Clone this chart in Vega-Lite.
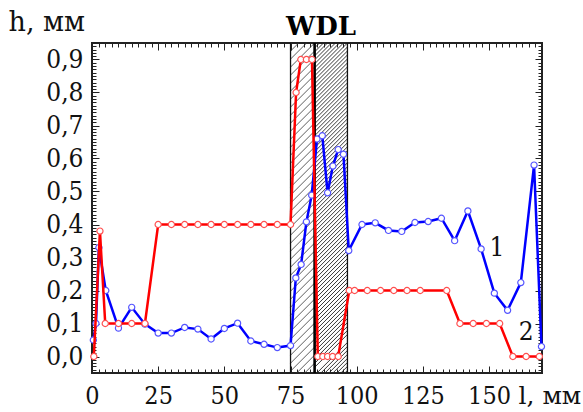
{
  "$schema": "https://vega.github.io/schema/vega-lite/v6.json",
  "width": 450,
  "height": 330,
  "autosize": {"type": "none"},
  "padding": {"left": 92, "top": 43, "right": 41, "bottom": 39},
  "background": "white",
  "config": {
    "font": "DejaVu Serif Condensed",
    "view": {"stroke": "#222", "strokeWidth": 2},
    "axis": {"domain": false, "grid": false, "tickColor": "#222", "tickWidth": 1, "labelColor": "#111", "labelFont": "DejaVu Serif Condensed", "titleFont": "DejaVu Serif", "titleFontWeight": "normal", "titleColor": "#111", "labelFlush": false, "labelOverlap": false}
  },
  "datasets": {
    "blue": [{"l":0.5,"h":0.05},{"l":1.5,"h":0.1},{"l":2.6,"h":0.33},{"l":5.2,"h":0.2},{"l":10,"h":0.086},{"l":15,"h":0.149},{"l":20,"h":0.098},{"l":25,"h":0.071},{"l":30,"h":0.071},{"l":35,"h":0.088},{"l":40,"h":0.083},{"l":45,"h":0.053},{"l":50,"h":0.085},{"l":55,"h":0.101},{"l":60,"h":0.047},{"l":65,"h":0.037},{"l":70,"h":0.027},{"l":75,"h":0.033},{"l":77,"h":0.238},{"l":79,"h":0.279},{"l":81,"h":0.408},{"l":83,"h":0.489},{"l":85,"h":0.659},{"l":87,"h":0.669},{"l":89,"h":0.496},{"l":91,"h":0.577},{"l":93,"h":0.627},{"l":95,"h":0.613},{"l":97,"h":0.321},{"l":102,"h":0.4},{"l":107,"h":0.405},{"l":112,"h":0.382},{"l":117,"h":0.379},{"l":122,"h":0.406},{"l":127,"h":0.409},{"l":132,"h":0.419},{"l":137,"h":0.351},{"l":142,"h":0.441},{"l":147,"h":0.326},{"l":152,"h":0.192},{"l":157,"h":0.14},{"l":162,"h":0.224},{"l":167,"h":0.58},{"l":169.8,"h":0.03}],
    "red": [{"l":0.7,"h":0.0},{"l":3,"h":0.38},{"l":5,"h":0.1},{"l":10,"h":0.1},{"l":15,"h":0.1},{"l":20,"h":0.1},{"l":25,"h":0.4},{"l":30,"h":0.4},{"l":35,"h":0.4},{"l":40,"h":0.4},{"l":45,"h":0.4},{"l":50,"h":0.4},{"l":55,"h":0.4},{"l":60,"h":0.4},{"l":65,"h":0.4},{"l":70,"h":0.4},{"l":75,"h":0.4},{"l":77.1,"h":0.8},{"l":78.9,"h":0.9},{"l":81,"h":0.9},{"l":83.1,"h":0.9},{"l":85.3,"h":0.0},{"l":87.2,"h":0.0},{"l":89,"h":0.0},{"l":90.9,"h":0.0},{"l":93,"h":0.0},{"l":97.2,"h":0.2},{"l":99.2,"h":0.2},{"l":104,"h":0.2},{"l":109,"h":0.2},{"l":114,"h":0.2},{"l":119,"h":0.2},{"l":124,"h":0.2},{"l":134,"h":0.2},{"l":139,"h":0.1},{"l":144,"h":0.1},{"l":149,"h":0.1},{"l":154,"h":0.1},{"l":159,"h":0.0},{"l":164,"h":0.0},{"l":169,"h":0.0}],
    "labels": [{"l":153,"h":0.33,"t":"1"},{"l":164,"h":0.074,"t":"2"}]
  },
  "layer": [
    {
      "data": {"values": [{"l": 79.55, "h": 0.45}]},
      "mark": {"type": "point", "filled": false, "color": "#333", "strokeWidth": 0.8, "opacity": 1, "size": 108900,
        "shape": "M-0.073,-0.9025L0.0245,-1M-0.073,-0.951L-0.024,-1M-0.073,-0.854l0.146,-0.146m-0.146,0.1945l0.146,-0.146m-0.146,0.1945l0.146,-0.146m-0.146,0.1945l0.146,-0.146m-0.146,0.1945l0.146,-0.146m-0.146,0.1945l0.146,-0.146m-0.146,0.1945l0.146,-0.146m-0.146,0.1945l0.146,-0.146m-0.146,0.1945l0.146,-0.146m-0.146,0.1945l0.146,-0.146m-0.146,0.1945l0.146,-0.146m-0.146,0.1945l0.146,-0.146m-0.146,0.1945l0.146,-0.146m-0.146,0.1945l0.146,-0.146m-0.146,0.1945l0.146,-0.146m-0.146,0.1945l0.146,-0.146m-0.146,0.1945l0.146,-0.146m-0.146,0.1945l0.146,-0.146m-0.146,0.1945l0.146,-0.146m-0.146,0.1945l0.146,-0.146m-0.146,0.1945l0.146,-0.146m-0.146,0.1945l0.146,-0.146m-0.146,0.1945l0.146,-0.146m-0.146,0.1945l0.146,-0.146m-0.146,0.1945l0.146,-0.146m-0.146,0.1945l0.146,-0.146m-0.146,0.1945l0.146,-0.146m-0.146,0.1945l0.146,-0.146m-0.146,0.1945l0.146,-0.146m-0.146,0.1945l0.146,-0.146m-0.146,0.1945l0.146,-0.146m-0.146,0.1945l0.146,-0.146m-0.146,0.1945l0.146,-0.146m-0.146,0.1945l0.146,-0.146m-0.146,0.1945l0.146,-0.146m-0.146,0.1945l0.146,-0.146m-0.146,0.1945l0.146,-0.146m-0.146,0.1945l0.146,-0.146m-0.146,0.1945l0.146,-0.146M-0.0355,1L0.073,0.8915M0.013,1L0.073,0.94M0.0615,1L0.073,0.9885"},
      "encoding": {
        "x": {"field": "l", "type": "quantitative", "scale": {"domain": [0, 170], "nice": false, "zero": false}, "axis": null},
        "y": {"field": "h", "type": "quantitative", "scale": {"domain": [-0.05, 0.95], "nice": false, "zero": false}, "axis": {"orient": "right", "values": [0,0.1,0.2,0.3,0.4,0.5,0.6,0.7,0.8,0.9], "tickSize": -7, "labels": false, "title": null}}
      }
    },
    {
      "data": {"values": [{"l": 90.3, "h": 0.45}]},
      "mark": {"type": "point", "filled": false, "color": "#222", "strokeWidth": 0.9, "opacity": 1, "size": 108900,
        "shape": "M-0.0994,-0.8254L0.0752,-1M-0.0994,-0.8496L0.051,-1M-0.0994,-0.8738L0.0268,-1M-0.0994,-0.898L0.0026,-1M-0.0994,-0.9222L-0.0216,-1M-0.0994,-0.9464L-0.0458,-1M-0.0994,-0.9706L-0.07,-1M-0.0994,-0.9948L-0.0942,-1M-0.0994,-0.8012l0.1988,-0.1988m-0.1988,0.223l0.1988,-0.1988m-0.1988,0.223l0.1988,-0.1988m-0.1988,0.223l0.1988,-0.1988m-0.1988,0.223l0.1988,-0.1988m-0.1988,0.223l0.1988,-0.1988m-0.1988,0.223l0.1988,-0.1988m-0.1988,0.223l0.1988,-0.1988m-0.1988,0.223l0.1988,-0.1988m-0.1988,0.223l0.1988,-0.1988m-0.1988,0.223l0.1988,-0.1988m-0.1988,0.223l0.1988,-0.1988m-0.1988,0.223l0.1988,-0.1988m-0.1988,0.223l0.1988,-0.1988m-0.1988,0.223l0.1988,-0.1988m-0.1988,0.223l0.1988,-0.1988m-0.1988,0.223l0.1988,-0.1988m-0.1988,0.223l0.1988,-0.1988m-0.1988,0.223l0.1988,-0.1988m-0.1988,0.223l0.1988,-0.1988m-0.1988,0.223l0.1988,-0.1988m-0.1988,0.223l0.1988,-0.1988m-0.1988,0.223l0.1988,-0.1988m-0.1988,0.223l0.1988,-0.1988m-0.1988,0.223l0.1988,-0.1988m-0.1988,0.223l0.1988,-0.1988m-0.1988,0.223l0.1988,-0.1988m-0.1988,0.223l0.1988,-0.1988m-0.1988,0.223l0.1988,-0.1988m-0.1988,0.223l0.1988,-0.1988m-0.1988,0.223l0.1988,-0.1988m-0.1988,0.223l0.1988,-0.1988m-0.1988,0.223l0.1988,-0.1988m-0.1988,0.223l0.1988,-0.1988m-0.1988,0.223l0.1988,-0.1988m-0.1988,0.223l0.1988,-0.1988m-0.1988,0.223l0.1988,-0.1988m-0.1988,0.223l0.1988,-0.1988m-0.1988,0.223l0.1988,-0.1988m-0.1988,0.223l0.1988,-0.1988m-0.1988,0.223l0.1988,-0.1988m-0.1988,0.223l0.1988,-0.1988m-0.1988,0.223l0.1988,-0.1988m-0.1988,0.223l0.1988,-0.1988m-0.1988,0.223l0.1988,-0.1988m-0.1988,0.223l0.1988,-0.1988m-0.1988,0.223l0.1988,-0.1988m-0.1988,0.223l0.1988,-0.1988m-0.1988,0.223l0.1988,-0.1988m-0.1988,0.223l0.1988,-0.1988m-0.1988,0.223l0.1988,-0.1988m-0.1988,0.223l0.1988,-0.1988m-0.1988,0.223l0.1988,-0.1988m-0.1988,0.223l0.1988,-0.1988m-0.1988,0.223l0.1988,-0.1988m-0.1988,0.223l0.1988,-0.1988m-0.1988,0.223l0.1988,-0.1988m-0.1988,0.223l0.1988,-0.1988m-0.1988,0.223l0.1988,-0.1988m-0.1988,0.223l0.1988,-0.1988m-0.1988,0.223l0.1988,-0.1988m-0.1988,0.223l0.1988,-0.1988m-0.1988,0.223l0.1988,-0.1988m-0.1988,0.223l0.1988,-0.1988m-0.1988,0.223l0.1988,-0.1988m-0.1988,0.223l0.1988,-0.1988m-0.1988,0.223l0.1988,-0.1988m-0.1988,0.223l0.1988,-0.1988m-0.1988,0.223l0.1988,-0.1988m-0.1988,0.223l0.1988,-0.1988m-0.1988,0.223l0.1988,-0.1988m-0.1988,0.223l0.1988,-0.1988m-0.1988,0.223l0.1988,-0.1988m-0.1988,0.223l0.1988,-0.1988M-0.0856,1L0.0994,0.815M-0.0614,1L0.0994,0.8392M-0.0372,1L0.0994,0.8634M-0.013,1L0.0994,0.8876M0.0112,1L0.0994,0.9118M0.0354,1L0.0994,0.936M0.0596,1L0.0994,0.9602M0.0838,1L0.0994,0.9844"},
      "encoding": {
        "x": {"field": "l", "type": "quantitative", "scale": {"domain": [0, 170], "nice": false, "zero": false}, "axis": null},
        "y": {"field": "h", "type": "quantitative", "scale": {"domain": [-0.05, 0.95], "nice": false, "zero": false}, "axis": {"orient": "right", "tickCount": 100, "tickSize": -4, "labels": false, "title": null}}
      }
    },
    {
      "data": {"values": [{"l": 75}, {"l": 96.5}]},
      "mark": {"type": "rule", "color": "#111", "strokeWidth": 1.3},
      "encoding": {
        "x": {"field": "l", "type": "quantitative", "scale": {"domain": [0, 170], "nice": false, "zero": false}, "axis": {"orient": "top", "values": [0,25,50,75,100,125,150], "tickSize": -7, "labels": false, "title": null}}
      }
    },
    {
      "data": {"values": [{"l": 84.1}]},
      "mark": {"type": "rule", "color": "#000", "strokeWidth": 2.6},
      "encoding": {
        "x": {"field": "l", "type": "quantitative", "scale": {"domain": [0, 170], "nice": false, "zero": false}, "axis": {"orient": "top", "values": [0,2.5,5,7.5,10,12.5,15,17.5,20,22.5,25,27.5,30,32.5,35,37.5,40,42.5,45,47.5,50,52.5,55,57.5,60,62.5,65,67.5,70,72.5,75,77.5,80,82.5,85,87.5,90,92.5,95,97.5,100,102.5,105,107.5,110,112.5,115,117.5,120,122.5,125,127.5,130,132.5,135,137.5,140,142.5,145,147.5,150,152.5,155,157.5,160,162.5,165,167.5,170], "tickSize": -4, "labels": false, "title": null}}
      }
    },
    {
      "data": {"name": "blue"},
      "mark": {"type": "line", "color": "#0000ff", "strokeWidth": 2.5, "point": {"filled": true, "fill": "white", "stroke": "#5555ff", "strokeWidth": 1.2, "size": 38, "opacity": 1}},
      "encoding": {
        "x": {"field": "l", "type": "quantitative", "scale": {"domain": [0, 170], "nice": false, "zero": false}, "axis": {"orient": "bottom", "values": [0,25,50,75,100,125,150], "tickSize": -7, "labelFontSize": 25, "labelPadding": 37, "labelBaseline": "alphabetic", "format": "d", "title": "l, мм", "titleFont": "DejaVu Serif", "titleFontSize": 25, "titleAlign": "left", "titleBaseline": "alphabetic", "titleX": 426, "titleY": 30}},
        "y": {"field": "h", "type": "quantitative", "scale": {"domain": [-0.05, 0.95], "nice": false, "zero": false}, "axis": {"orient": "left", "values": [0,0.1,0.2,0.3,0.4,0.5,0.6,0.7,0.8,0.9], "tickSize": -7, "labelFontSize": 26, "labelPadding": 16, "labelExpr": "replace(format(datum.value, '.1f'), '.', ',')", "title": "h, мм", "titleFont": "DejaVu Serif", "titleAngle": 0, "titleFontSize": 27, "titleAlign": "left", "titleBaseline": "alphabetic", "titleX": -84, "titleY": -13}}
      }
    },
    {
      "data": {"name": "red"},
      "mark": {"type": "line", "color": "#ff0000", "strokeWidth": 2.5, "point": {"filled": true, "fill": "white", "stroke": "#ff5050", "strokeWidth": 1.2, "size": 38, "opacity": 1}},
      "encoding": {
        "x": {"field": "l", "type": "quantitative", "scale": {"domain": [0, 170], "nice": false, "zero": false}, "axis": {"orient": "bottom", "values": [0,2.5,5,7.5,10,12.5,15,17.5,20,22.5,25,27.5,30,32.5,35,37.5,40,42.5,45,47.5,50,52.5,55,57.5,60,62.5,65,67.5,70,72.5,75,77.5,80,82.5,85,87.5,90,92.5,95,97.5,100,102.5,105,107.5,110,112.5,115,117.5,120,122.5,125,127.5,130,132.5,135,137.5,140,142.5,145,147.5,150,152.5,155,157.5,160,162.5,165,167.5,170], "tickSize": -4, "labels": false, "title": null}},
        "y": {"field": "h", "type": "quantitative", "scale": {"domain": [-0.05, 0.95], "nice": false, "zero": false}, "axis": {"orient": "left", "tickCount": 100, "tickSize": -4, "labels": false, "title": null}}
      }
    },
    {
      "data": {"name": "labels"},
      "mark": {"type": "text", "fontSize": 26, "font": "DejaVu Serif Condensed", "color": "#111", "align": "center", "baseline": "middle"},
      "encoding": {
        "x": {"field": "l", "type": "quantitative", "scale": {"domain": [0, 170], "nice": false, "zero": false}, "axis": null},
        "y": {"field": "h", "type": "quantitative", "scale": {"domain": [-0.05, 0.95], "nice": false, "zero": false}, "axis": null},
        "text": {"field": "t"}
      }
    },
    {
      "data": {"values": [{"t": "WDL"}]},
      "mark": {"type": "text", "fontSize": 26, "fontWeight": "bold", "font": "DejaVu Serif", "color": "#000", "align": "center", "baseline": "alphabetic"},
      "encoding": {
        "x": {"datum": 86.5, "type": "quantitative", "scale": {"domain": [0, 170], "nice": false, "zero": false}, "axis": null},
        "y": {"datum": 0.974, "type": "quantitative", "scale": {"domain": [-0.05, 0.95], "nice": false, "zero": false}, "axis": null},
        "text": {"field": "t"}
      }
    }
  ],
  "resolve": {"axis": {"x": "independent", "y": "independent"}}
}
